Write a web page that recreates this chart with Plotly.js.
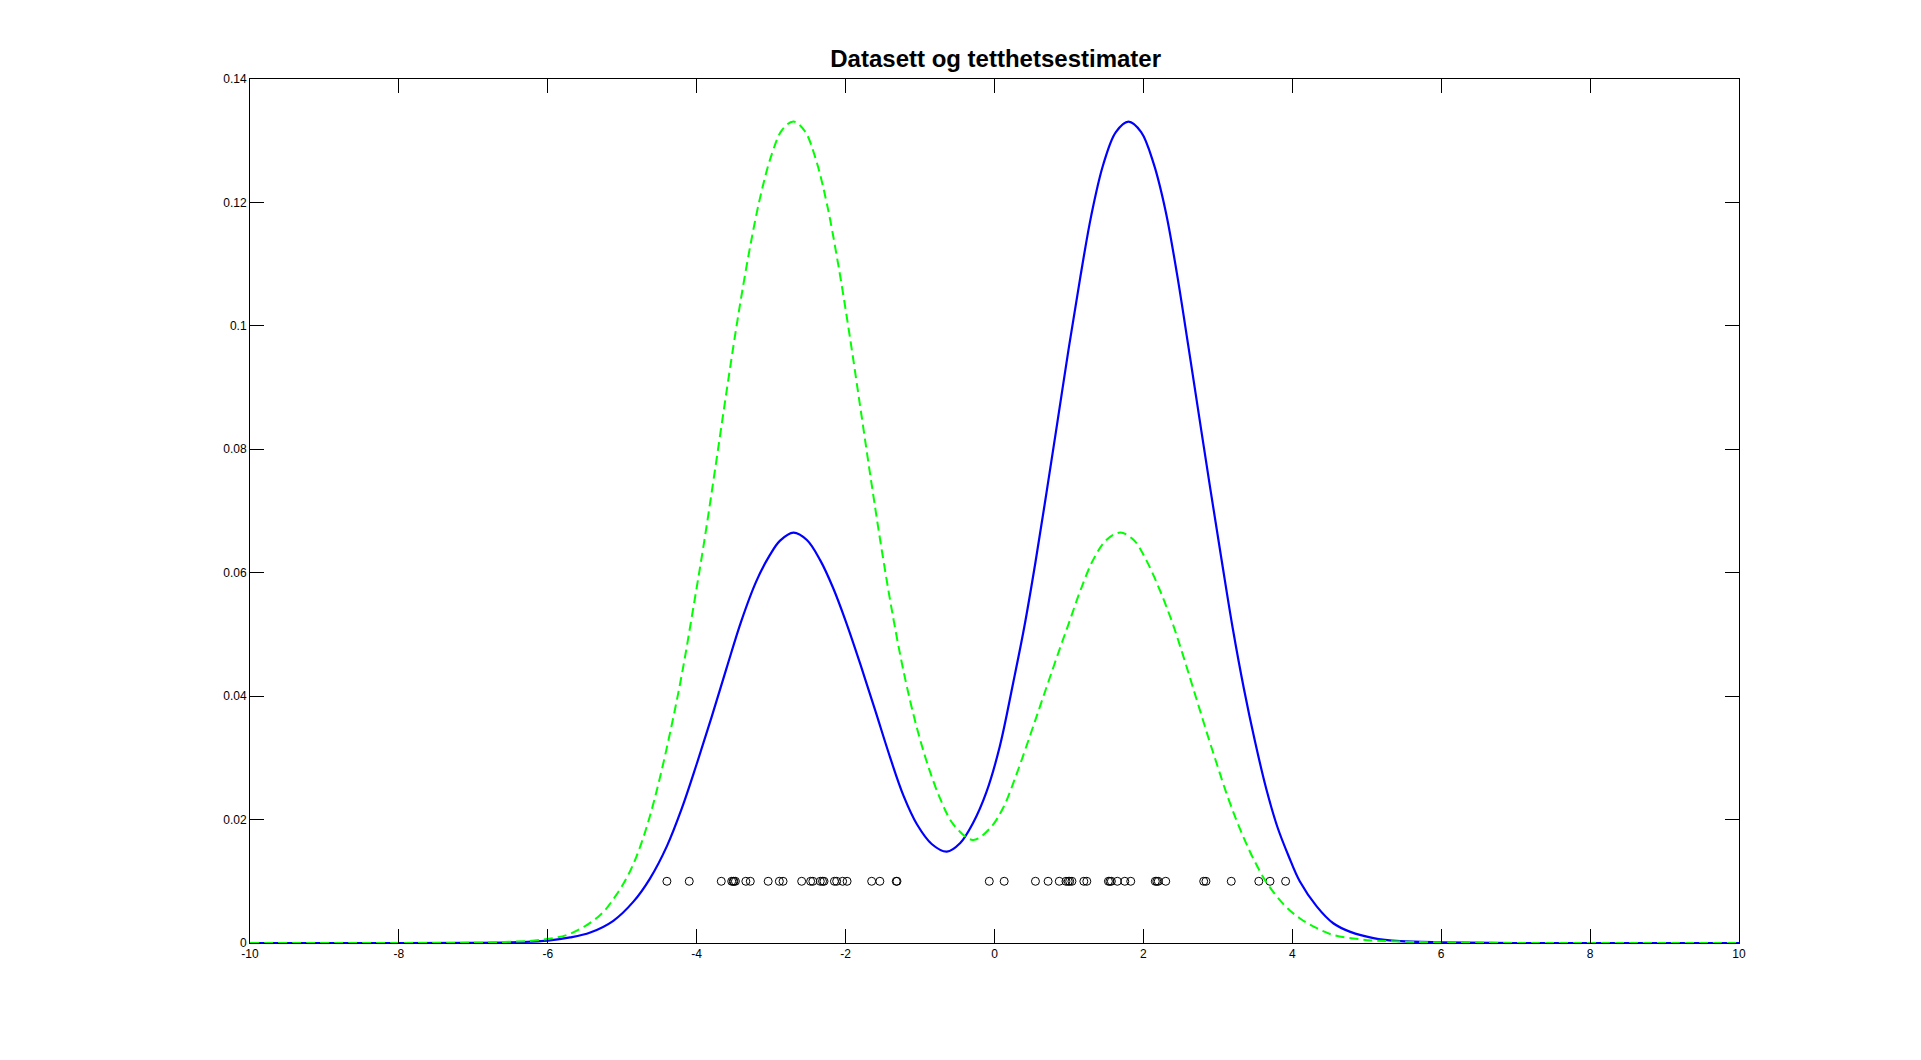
<!DOCTYPE html>
<html>
<head>
<meta charset="utf-8">
<script src="https://cdn.plot.ly/plotly-3.0.1.min.js"></script>
<style>html,body{margin:0;padding:0;background:#fff;}#chart{width:1921px;height:1060px;}</style>
</head>
<body>
<div id="chart"></div>
<script>
// Data points (dataset), drawn at y = 0.01
const dataX = [-4.40, -4.10, -3.67, -3.53, -3.51, -3.50, -3.48, -3.34, -3.28, -3.04, -2.89, -2.84,
  -2.59, -2.47, -2.44, -2.34, -2.31, -2.29, -2.15, -2.12, -2.04, -1.98, -1.65, -1.54, -1.32, -1.31,
  -0.07, 0.13, 0.55, 0.72, 0.87, 0.96, 0.99, 1.01, 1.04, 1.20, 1.24, 1.53, 1.55, 1.57, 1.65, 1.75,
  1.83, 2.16, 2.18, 2.20, 2.30, 2.81, 2.84, 3.18, 3.55, 3.70, 3.91];
const dataLevel = 0.01;

// Blue solid density estimate
const blueX = [-10, -8, -7, -6.5, -6.0, -5.7, -5.43, -5.12, -4.85, -4.63, -4.40, -4.20, -4.00, -3.80,
  -3.60, -3.40, -3.20, -3.02, -2.88, -2.70, -2.52, -2.34, -2.17, -2.00, -1.80, -1.60, -1.40,
  -1.22, -1.04, -0.84, -0.64, -0.46, -0.29, -0.11, 0.07, 0.25, 0.40, 0.55, 0.70, 0.85, 1.00,
  1.15, 1.30, 1.46, 1.63, 1.80, 1.97, 2.14, 2.30, 2.45, 2.60, 2.75, 2.90, 3.05, 3.20,
  3.35, 3.50, 3.65, 3.80, 3.95, 4.10, 4.33, 4.55, 4.78, 5.09, 5.45, 6.0, 7, 10];
const blueY = [0, 0, 0.00002, 0.0001, 0.0004, 0.0009, 0.0017, 0.0036, 0.0067, 0.0104, 0.0157, 0.0218, 0.0290, 0.0366,
  0.0445, 0.0522, 0.0586, 0.0628, 0.0652, 0.0665, 0.0653, 0.0620, 0.0576, 0.0522, 0.0451, 0.0376, 0.0300,
  0.0238, 0.0192, 0.0160, 0.0148, 0.0162, 0.0194, 0.0244, 0.0318, 0.0421, 0.0512, 0.0617, 0.0731, 0.0848, 0.0966,
  0.1077, 0.1179, 0.1261, 0.1314, 0.1331, 0.1314, 0.1262, 0.1185, 0.1085, 0.0970, 0.0852, 0.0735, 0.0621, 0.0510,
  0.0412, 0.0326, 0.0250, 0.0188, 0.0141, 0.0100, 0.0059, 0.0032, 0.0018, 0.0008, 0.0003, 0.0001, 0, 0];

// Green dashed density estimate
const greenX = [-10, -8, -7, -6.5, -6.1, -5.70, -5.30, -5.08, -4.90, -4.76, -4.63, -4.50, -4.35, -4.20, -4.05,
  -3.90, -3.75, -3.60, -3.45, -3.30, -3.15, -3.00, -2.85, -2.70, -2.55, -2.40, -2.25, -2.10, -1.95, -1.80, -1.65,
  -1.50, -1.35, -1.20, -1.05, -0.90, -0.73, -0.55, -0.29, -0.06, 0.12, 0.30, 0.48, 0.61, 0.74, 0.88, 1.01, 1.15,
  1.33, 1.51, 1.69, 1.87, 2.04, 2.22, 2.38, 2.52, 2.64, 2.76, 2.88, 3.00, 3.12, 3.24, 3.36, 3.50, 3.66,
  3.88, 4.10, 4.33, 4.55, 4.91, 5.27, 6, 7, 10];
const greenY = [0, 0, 0.00003, 0.0002, 0.0005, 0.0015, 0.0045, 0.0078, 0.0115, 0.0156, 0.0205, 0.0265, 0.0345, 0.0435, 0.0540,
  0.0650, 0.0770, 0.0893, 0.1011, 0.1117, 0.1207, 0.1275, 0.1318, 0.1331, 0.1316, 0.1270, 0.1197, 0.1100, 0.0988, 0.0866, 0.0743,
  0.0626, 0.0520, 0.0428, 0.0352, 0.0290, 0.0234, 0.0192, 0.0167, 0.0186, 0.0220, 0.0275, 0.0337, 0.0383, 0.0429, 0.0478, 0.0522, 0.0570,
  0.0622, 0.0654, 0.0665, 0.0653, 0.0620, 0.0572, 0.0522, 0.0471, 0.0424, 0.0377, 0.0330, 0.0285, 0.0241, 0.0202, 0.0167, 0.0131, 0.0097,
  0.0063, 0.0040, 0.0024, 0.0013, 0.0006, 0.0003, 0.0001, 0, 0];

const xTicks = [-10, -8, -6, -4, -2, 0, 2, 4, 6, 8, 10];
const yTicks = [0, 0.02, 0.04, 0.06, 0.08, 0.1, 0.12, 0.14];
const yTickText = ['0', '0.02', '0.04', '0.06', '0.08', '0.1', '0.12', '0.14'];
const titleText = 'Datasett og tetthetsestimater';

const traces = [
  {x: dataX, y: dataX.map(() => dataLevel), type: 'scatter', mode: 'markers',
   marker: {symbol: 'circle-open', size: 8, color: '#000', line: {width: 1, color: '#000'}},
   hoverinfo: 'x'},
  {x: blueX, y: blueY, type: 'scatter', mode: 'lines',
   line: {color: '#0000ff', width: 2.2, shape: 'spline', smoothing: 1}},
  {x: greenX, y: greenY, type: 'scatter', mode: 'lines',
   line: {color: '#00ff00', width: 2, dash: '9px,5px', shape: 'spline', smoothing: 1}}
];

const axisCommon = {
  showline: true, linecolor: '#000', linewidth: 1, mirror: 'ticks',
  ticks: 'inside', ticklen: 14, tickwidth: 1, tickcolor: '#000',
  showgrid: false, zeroline: false,
  tickfont: {family: 'Liberation Sans, Arial, sans-serif', size: 12, color: '#000'}
};

const layout = {
  width: 1921, height: 1060,
  margin: {l: 250, r: 182, t: 79, b: 117, pad: 0},
  paper_bgcolor: '#fff', plot_bgcolor: '#fff',
  showlegend: false,
  title: {text: '<b>' + titleText + '</b>', x: 0.5183, xanchor: 'center', y: 0.945, yanchor: 'middle',
          font: {family: 'Liberation Sans, Arial, sans-serif', size: 24, color: '#000'}},
  xaxis: Object.assign({}, axisCommon, {range: [-10, 10], tickmode: 'array', tickvals: xTicks,
          ticktext: xTicks.map(String)}),
  yaxis: Object.assign({}, axisCommon, {range: [0, 0.14], tickmode: 'array', tickvals: yTicks,
          ticktext: yTickText})
};

Plotly.newPlot('chart', traces, layout, {displayModeBar: false, staticPlot: true});
</script>
</body>
</html>
